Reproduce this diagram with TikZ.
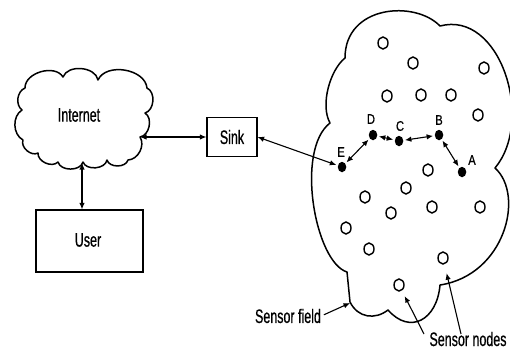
\documentclass[tikz,border=0pt]{standalone}
\usepackage{fontspec}
\setmainfont{Liberation Sans}[FakeStretch=0.64,FakeBold=0.6]
\newfontfamily\tagfont{Liberation Sans}[FakeStretch=0.8,FakeBold=0.6]
\usetikzlibrary{arrows.meta,shapes.geometric}

\begin{document}
\begin{tikzpicture}[x=1pt,y=1pt,
  every node/.style={inner sep=0pt},
  lbl/.style={font=\fontsize{19.5}{21}\selectfont},
  tag/.style={font=\tagfont\fontsize{14}{16}\selectfont},
  box/.style={draw,line width=1.2pt,inner sep=0pt},
  cloudline/.style={line width=1.5pt,line join=round},
  sensor/.style={ellipse,draw,line width=1.4pt,minimum width=10pt,minimum height=12pt},
  relay/.style={ellipse,fill,minimum width=8.5pt,minimum height=10.5pt},
  link/.style={line width=1.1pt,{Latex[length=6.5pt,width=5.5pt]}-{Latex[length=6.5pt,width=5.5pt]}},
  pointer/.style={line width=1.1pt,-{Latex[length=6.5pt,width=5.5pt]}}
]
\useasboundingbox (0,0) rectangle (510,-349);

% Internet cloud
\draw[cloudline] (25,-88) to[bend left=75] (63,-77) to[bend left=75] (98,-80)
  to[bend left=75] (147,-88) to[bend left=70] (145,-113) to[bend left=70] (140,-137)
  to[bend left=60] (128,-160) to[bend left=75] (107,-160) to[bend left=75] (83,-162)
  to[bend left=75] (58,-162) to[bend left=70] (38,-153) to[bend left=70] (23,-140)
  to[bend left=60] (22,-110) to[bend left=60] (25,-88) -- cycle;
\node[lbl] (inet) at (79,-115) {Internet};
\coordinate (inetR) at (140,-137);
\coordinate (inetB) at (82,-163);

% Sink and user boxes
\node[box,minimum width=50pt,minimum height=39pt,lbl] (sink) at (232,-137) {Sink};
\node[box,minimum width=107pt,minimum height=62pt] (user) at (89.5,-241) {};
\node[lbl] (usertext) at (88,-240) {User};

\draw[link] (inetR) -- (sink.west);
\draw[link] (inetB) -- (inetB |- user.north);

% Sensor field outline
\draw[cloudline] (345,-58) .. controls (345,-5) and (415,0) .. (440,-26)
  .. controls (500,-10) and (535,-120) .. (495,-168)
  .. controls (525,-195) and (505,-275) .. (440,-285)
  .. controls (437,-320) and (410,-335) .. (388,-310)
  .. controls (375,-320) and (358,-318) .. (350,-302)
  -- (347,-272)
  .. controls (315,-262) and (295,-150) .. (330,-123)
  .. controls (320,-105) and (330,-70) .. (345,-58) -- cycle;
\coordinate (sfTip) at (350,-303);

% Sensor nodes
\foreach \p [count=\i] in {(383,-43),(413,-63),(484,-68),(387,-96),(421,-95),
  (451,-95),(478,-115),(428,-170),(406,-188),(365,-197),(391,-213),(432,-207),
  (480,-207),(346,-228),(369,-249),(443,-258),(399,-285)}
  \node[sensor] (n\i) at \p {};

% Relay path nodes
\node[relay] (D) at (373,-135) {};
\node[relay] (C) at (399,-141) {};
\node[relay] (B) at (439,-135) {};
\node[relay] (E) at (342,-167) {};
\node[relay] (A) at (462,-172) {};
\node[tag] (Dl) at (371,-119) {D};
\node[tag] (Cl) at (400,-126) {C};
\node[tag] (Bl) at (439,-120) {B};
\node[tag] (El) at (341,-152) {E};
\node[tag] (Al) at (472,-160) {A};

\draw[link,shorten <=1.5pt,shorten >=1.5pt] (E) -- (D);
\draw[link,shorten <=1.5pt,shorten >=1.5pt] (D) -- (C);
\draw[link,shorten <=1.5pt,shorten >=1.5pt] (C) -- (B);
\draw[link,shorten <=1.5pt,shorten >=1.5pt] (B) -- (A);
\draw[link,shorten >=1.5pt] (sink.east) -- (E);

% Labels with pointers
\node[lbl] (sf) at (288,-316) {Sensor field};
\draw[pointer,shorten <=3pt] (sf.east) -- (sfTip);
\node[lbl,anchor=base] (sn) at (468,-346) {Sensor nodes};
\coordinate (snL) at (424,-334);
\coordinate (snR) at (461,-334);
\draw[pointer,shorten >=6pt] (snL) -- (n17);
\draw[pointer,shorten >=9pt] (snR) -- (n16);
\end{tikzpicture}
\end{document}
